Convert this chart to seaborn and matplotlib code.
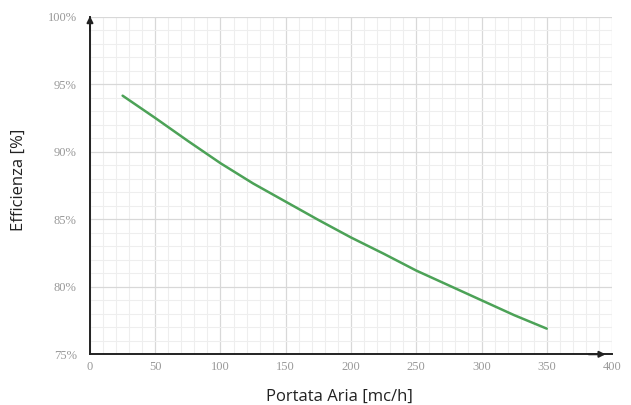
import numpy as np
import pandas as pd
import seaborn as sns
import matplotlib.pyplot as plt
from matplotlib.ticker import MultipleLocator, PercentFormatter

# dati
portata = [25, 50, 75, 100, 125, 150, 175, 200, 225, 250, 275, 300, 325, 350]
efficienza = [94.15, 92.5, 90.8, 89.15, 87.65, 86.3, 84.95, 83.65, 82.45, 81.2, 80.1, 79.0, 77.9, 76.9]
x_ticks = [0, 50, 100, 150, 200, 250, 300, 350, 400]
y_ticks = [75, 80, 85, 90, 95, 100]

df = pd.DataFrame({"Portata": portata, "Efficienza": efficienza})

sns.set_theme(style="white")
plt.rcParams['font.family'] = ['Open Sans', 'DejaVu Sans']

fig = plt.figure(figsize=(6.31, 4.05), dpi=100)
ax = fig.add_axes([0.1426, 0.1252, 0.9699 - 0.1426, 0.9588 - 0.1252])

sns.lineplot(data=df, x="Portata", y="Efficienza", color="#4ca257", linewidth=1.8, ax=ax)

ax.set_xlim(0, 400)
ax.set_ylim(75, 100)
ax.set_xticks(x_ticks)
ax.set_yticks(y_ticks)
ax.xaxis.set_minor_locator(MultipleLocator(10))
ax.yaxis.set_minor_locator(MultipleLocator(1))
ax.yaxis.set_major_formatter(PercentFormatter(decimals=0))

ax.grid(which="major", color="#d8d8d8", linewidth=0.9)
ax.grid(which="minor", color="#eeeeee", linewidth=0.8)
ax.set_axisbelow(True)

for lab in ax.get_xticklabels() + ax.get_yticklabels():
    lab.set_family(['Liberation Serif', 'DejaVu Serif'])
    lab.set_color("#999999")
    lab.set_fontsize(9)
ax.tick_params(which="both", length=0)
ax.tick_params(axis="y", pad=9.5)
ax.tick_params(axis="x", pad=5)

for s in ["top", "right"]:
    ax.spines[s].set_visible(False)
for s in ["left", "bottom"]:
    ax.spines[s].set_color("#222222")
    ax.spines[s].set_linewidth(1.4)

# frecce degli assi
ax.annotate("", xy=(0, 1.01), xytext=(0, 0.95), xycoords="axes fraction",
            arrowprops=dict(arrowstyle="-|>", color="#222222", lw=1.4, mutation_scale=9))
ax.annotate("", xy=(0.993, 0), xytext=(0.95, 0), xycoords="axes fraction",
            arrowprops=dict(arrowstyle="-|>", color="#222222", lw=1.4, mutation_scale=9))

ax.set_xlabel("Portata Aria [mc/h]", fontsize=12, color="#222222")
ax.set_ylabel("Efficienza [%]", fontsize=12, color="#222222")
ax.xaxis.set_label_coords(0.477, -0.103)
ax.yaxis.set_label_coords(-0.121, 0.516)

fig.savefig("out.png", dpi=100)
